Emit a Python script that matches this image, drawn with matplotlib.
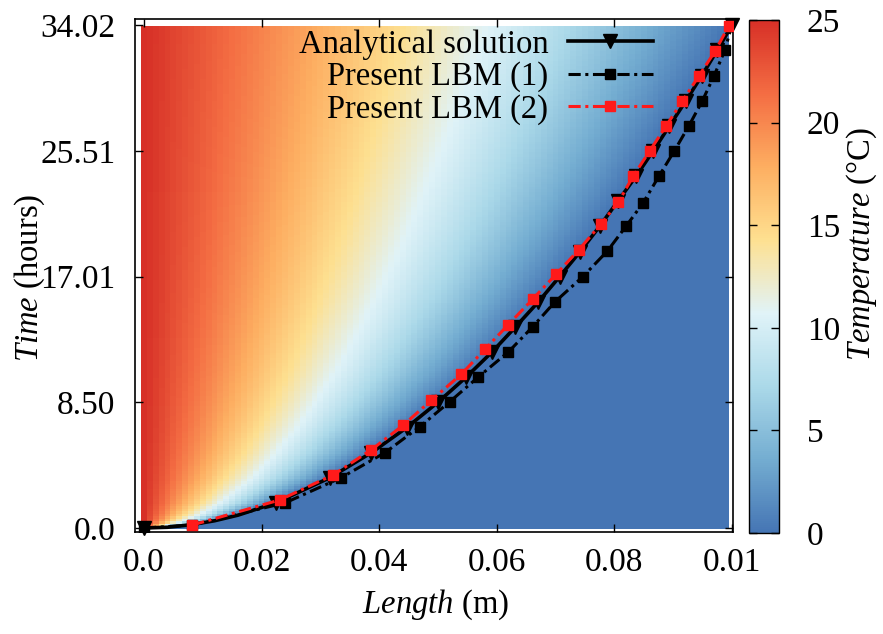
import numpy as np
import matplotlib
matplotlib.use("Agg")
import matplotlib.pyplot as plt
from matplotlib.colors import LinearSegmentedColormap

plt.rcParams['font.family'] = ['Liberation Serif', 'DejaVu Serif']
plt.rcParams['mathtext.fontset'] = 'custom'
plt.rcParams['mathtext.rm'] = 'Liberation Serif'
plt.rcParams['mathtext.it'] = 'Liberation Serif:italic'

# Melting-front position (m) against time (h)
ana_len = [0.0, 0.004, 0.008, 0.012, 0.016, 0.0224, 0.0316, 0.0387, 0.0447, 0.0500,
           0.0548, 0.0592, 0.0632, 0.0671, 0.0707, 0.0742, 0.0775, 0.0806, 0.0837,
           0.0866, 0.0894, 0.0922, 0.0949, 0.0975, 0.1000]
ana_time = [0.0, 0.05, 0.22, 0.49, 0.87, 1.70, 3.40, 5.10, 6.80, 8.51,
            10.21, 11.91, 13.61, 15.31, 17.01, 18.71, 20.41, 22.11, 23.81,
            25.51, 27.22, 28.92, 30.62, 32.32, 34.02]
ana_marks = [0] + list(range(5, 25))

lbm1_len = [0.0, 0.0082, 0.0240, 0.0335, 0.0410, 0.0469, 0.0520, 0.0569, 0.0620, 0.0661,
            0.0699, 0.0746, 0.0788, 0.0820, 0.0849, 0.0876, 0.0902, 0.0927, 0.0950,
            0.0970, 0.0988, 0.1000]
lbm1_time = [0.0, 0.20, 1.70, 3.40, 5.10, 6.85, 8.54, 10.23, 11.92, 13.61, 15.30, 16.99,
             18.73, 20.42, 22.00, 23.81, 25.51, 27.22, 28.92, 30.62, 32.32, 34.02]

lbm2_len = [0.0082, 0.0231, 0.0322, 0.0387, 0.0441, 0.0489, 0.0540, 0.0580, 0.0620,
            0.0661, 0.0701, 0.0740, 0.0778, 0.0807, 0.0832, 0.0860, 0.0888, 0.0916,
            0.0944, 0.0972, 0.0995]
lbm2_time = [0.20, 1.90, 3.60, 5.30, 6.96, 8.65, 10.41, 12.10, 13.77, 15.48, 17.17,
             18.84, 20.60, 22.06, 23.80, 25.50, 27.20, 28.90, 30.60, 32.30, 34.00]

# Temperature across the melt layer, as a fraction of the distance to the front
front_frac = [0.0, 0.1, 0.2, 0.3, 0.4, 0.5, 0.6, 0.7, 0.8, 0.9, 1.0]
front_temp = [25.0, 22.6, 20.2, 17.8, 15.3, 12.8, 10.3, 7.8, 5.2, 2.6, 0.0]

x_ticks = [0.0, 0.02, 0.04, 0.06, 0.08, 0.1]
x_ticklabels = ["0.0", "0.02", "0.04", "0.06", "0.08", "0.01"]
y_ticks = [0.0, 8.505, 17.01, 25.515, 34.02]
y_ticklabels = ["0.0", "8.50", "17.01", "25.51", "34.02"]
cb_ticks = [0, 5, 10, 15, 20, 25]

palette = ['#4575b4', '#74add1', '#abd9e9', '#e0f3f8',
           '#fee090', '#fdae61', '#f46d43', '#d73027']
cmap = LinearSegmentedColormap.from_list('rdylbu8', palette)

# temperature field on the simulation grid
xc = np.arange(100) * 0.001
tc = np.linspace(0.0, 33.93, 200)
front = np.maximum(np.interp(tc, ana_time, ana_len), 1e-4)
frac = xc[None, :] / front[:, None]
field = np.interp(frac, front_frac, front_temp, right=0.0)

fig = plt.figure(figsize=(8.83, 6.34), dpi=100)
ax = fig.add_axes([0.1529, 0.1609, 0.6772, 0.8091])
cax = fig.add_axes([0.8482, 0.1593, 0.034, 0.8091])

im = ax.imshow(field, origin='lower', aspect='auto', interpolation='nearest',
               extent=[-0.0005, 0.0995, -0.07, 33.93], cmap=cmap, vmin=0, vmax=25)

line_style = (0, (4, 1.5, 1, 1.5))
ax.plot(ana_len, ana_time, color='black', lw=2.6, marker='v', ms=9.5,
        markevery=ana_marks, label='Analytical solution', zorder=4, clip_on=False)
ax.plot(lbm1_len, lbm1_time, color='black', lw=2.2, ls=line_style,
        marker='s', ms=6.5, label='Present LBM (1)', zorder=3)
ax.plot(lbm2_len, lbm2_time, color='#ff1a1a', lw=2.2, ls=line_style,
        marker='s', ms=6.5, label='Present LBM (2)', zorder=5)

ax.set_xlim(-0.00153, 0.1002)
ax.set_ylim(-0.27, 34.45)
ax.set_xticks(x_ticks)
ax.set_xticklabels(x_ticklabels)
ax.set_yticks(y_ticks)
ax.set_yticklabels(y_ticklabels)
ax.tick_params(direction='in', length=6, width=1, top=True, right=True,
               labelsize=24, color='black')
ax.tick_params(axis='y', pad=14)
ax.tick_params(axis='x', pad=11)
for sp in ax.spines.values():
    sp.set_linewidth(1.2)

leg = ax.legend(loc='upper right', bbox_to_anchor=(0.866, 0.98), frameon=False,
                markerfirst=False, fontsize=23.5, handlelength=2.6,
                handletextpad=0.6, labelspacing=0.05, borderpad=0, borderaxespad=0)

cb = fig.colorbar(im, cax=cax, ticks=cb_ticks)
cb.outline.set_linewidth(1.0)
cax.tick_params(direction='in', length=6, width=1, left=True, right=True,
                labelsize=24, pad=20)

fig.text(0.034, 0.5615, r'$\mathit{Time}$ (hours)', rotation=90,
         ha='center', va='center', fontsize=23.5)
fig.text(0.493, 0.046, r'$\mathit{Length}$ (m)', ha='center', va='center',
         fontsize=23.5)
fig.text(0.976, 0.615, r'$\mathit{Temperature}$ (°C)', rotation=90,
         ha='center', va='center', fontsize=23.5)

fig.savefig('out.png', dpi=100)
